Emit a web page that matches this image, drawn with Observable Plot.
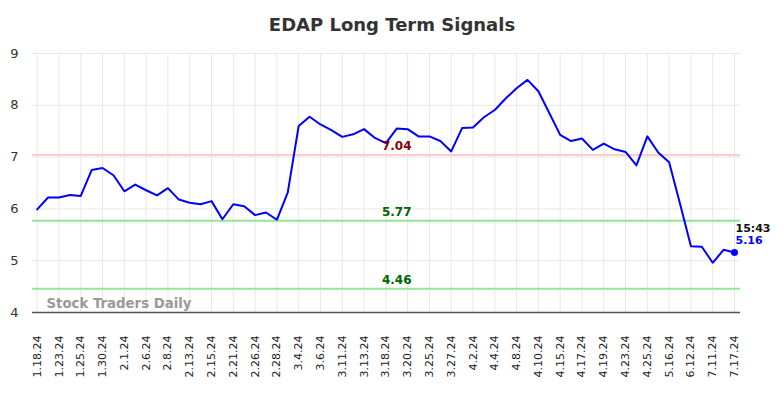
<!DOCTYPE html>
<html>
<head>
<meta charset="utf-8">
<script src="https://cdn.jsdelivr.net/npm/d3@7"></script>
<script src="https://cdn.jsdelivr.net/npm/@observablehq/plot@0.6"></script>
<style>
  html, body { margin: 0; padding: 0; background: #fff; }
  #wrap { position: relative; width: 784px; height: 398px; font-family: "DejaVu Sans", sans-serif; }
  #title { position: absolute; left: 0; top: 14px; width: 784px; text-align: center; font-weight: bold; font-size: 18px; color: #333; }
  #chart { position: absolute; left: 0; top: 0; }
</style>
</head>
<body>
<div id="wrap">
  <div id="chart"></div>
  <div id="title">EDAP Long Term Signals</div>
</div>
<script>
const tickLabels = ["1.18.24","1.23.24","1.25.24","1.30.24","2.1.24","2.6.24","2.8.24","2.13.24","2.15.24","2.21.24","2.26.24","2.28.24","3.4.24","3.6.24","3.11.24","3.13.24","3.18.24","3.20.24","3.25.24","3.27.24","4.2.24","4.4.24","4.8.24","4.10.24","4.15.24","4.17.24","4.19.24","4.23.24","4.25.24","5.16.24","6.12.24","7.11.24","7.17.24"];
const prices = [5.99,6.22,6.22,6.27,6.25,6.75,6.79,6.65,6.34,6.47,6.36,6.26,6.40,6.18,6.12,6.09,6.15,5.80,6.09,6.05,5.88,5.93,5.79,6.32,7.60,7.78,7.63,7.52,7.39,7.44,7.54,7.37,7.27,7.55,7.54,7.40,7.40,7.31,7.11,7.56,7.57,7.77,7.91,8.13,8.33,8.49,8.27,7.85,7.43,7.31,7.36,7.14,7.26,7.15,7.10,6.84,7.40,7.09,6.90,6.10,5.28,5.27,4.96,5.21,5.16];
const levelValues = [7.04, 5.77, 4.46];
const levelColors = ["#ffcccc", "#90e890", "#90e890"];
const levelTextColors = ["#8b0000", "#006400", "#006400"];
const yTicks = [4, 5, 6, 7, 8, 9];
const lastTime = "15:43";

const data = prices.map((v, i) => ({i, v}));
const last = data[data.length - 1];
const tickIdx = tickLabels.map((_, k) => k * 2);
const levels = levelValues.map((v, k) => ({v, c: levelColors[k], t: levelTextColors[k], x: 33}));

const chart = Plot.plot({
  width: 784,
  height: 398,
  marginLeft: 32,
  marginRight: 44,
  marginTop: 53,
  marginBottom: 86,
  style: {fontFamily: "DejaVu Sans, sans-serif", background: "transparent"},
  x: {domain: [-0.43, 64.55]},
  y: {domain: [4, 9]},
  marks: [
    Plot.gridY(yTicks, {stroke: "#e8e8e8", strokeOpacity: 1, strokeWidth: 1}),
    Plot.gridX(tickIdx, {stroke: "#e8e8e8", strokeOpacity: 1, strokeWidth: 1}),
    Plot.axisY(yTicks, {tickSize: 0, tickPadding: 14, fontSize: 13, fill: "#333", label: null, tickFormat: d => String(d)}),
    Plot.axisX(tickIdx, {tickSize: 0, tickPadding: 23, tickRotate: -90, fontSize: 11, fill: "#222", label: null, tickFormat: d => tickLabels[d / 2]}),
    Plot.ruleY(levels, {y: "v", stroke: "c", strokeWidth: 2}),
    Plot.ruleY([4], {stroke: "#555", strokeWidth: 1.5}),
    Plot.text(["Stock Traders Daily"], {frameAnchor: "bottom-left", dx: 14, dy: -5, fill: "#999", fontWeight: "bold", fontSize: 13.3, textAnchor: "start"}),
    Plot.line(data, {x: "i", y: "v", stroke: "#0000ff", strokeWidth: 2}),
    Plot.text(levels, {x: "x", y: "v", text: d => d.v.toFixed(2), fill: "t", fontWeight: "bold", fontSize: 12, dy: -9}),
    Plot.dot([last], {x: "i", y: "v", r: 3.5, fill: "#0000ff"}),
    Plot.text([last], {x: "i", y: "v", text: () => lastTime, fill: "#111", fontWeight: "bold", fontSize: 11, textAnchor: "start", dx: 1, dy: -24}),
    Plot.text([last], {x: "i", y: "v", text: d => d.v.toFixed(2), fill: "#0000ff", fontWeight: "bold", fontSize: 11, textAnchor: "start", dx: 1, dy: -12})
  ]
});
document.getElementById("chart").appendChild(chart);
</script>
</body>
</html>
